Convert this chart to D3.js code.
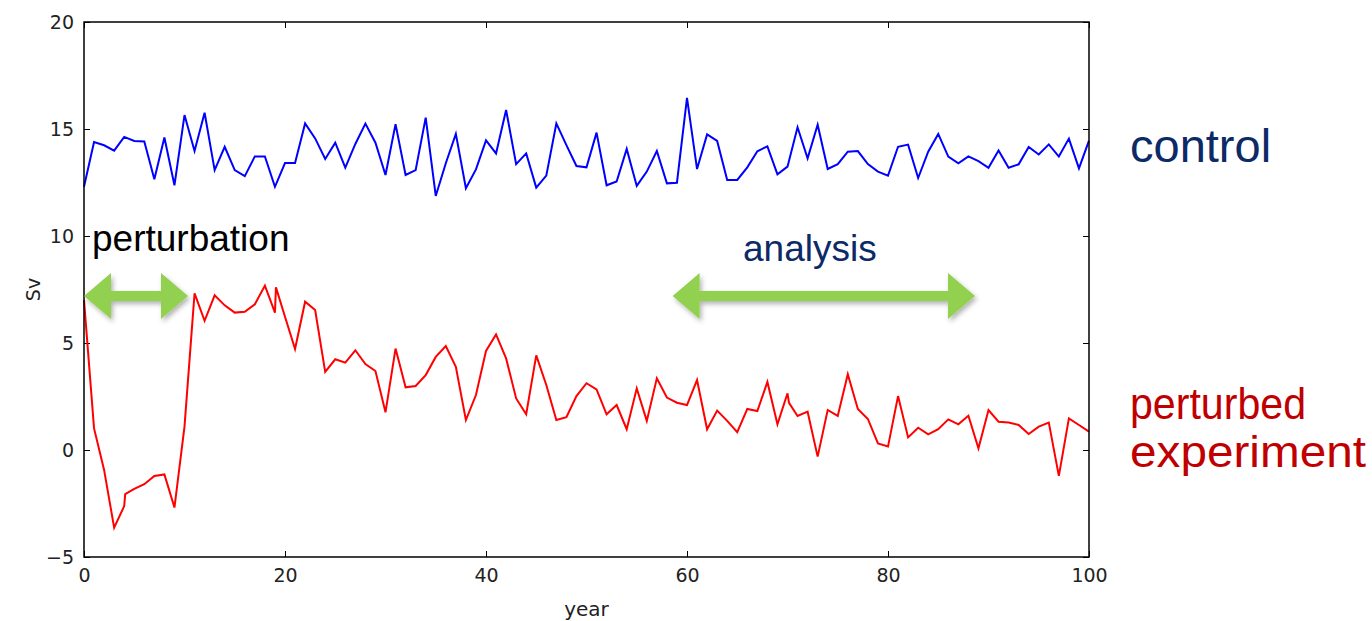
<!DOCTYPE html>
<html>
<head>
<meta charset="utf-8">
<script src="https://cdn.jsdelivr.net/npm/d3@7"></script>
<style>
  body { margin: 0; background: #fff; }
  svg { display: block; }
  .tick text { font-family: "DejaVu Sans", sans-serif; font-size: 19px; fill: #222; }
</style>
</head>
<body>
<div id="chart"></div>
<script>
// control run, one value per year
const controlYears = d3.range(0, 101);
const controlValues = [
  12.3, 14.39, 14.24, 13.99, 14.63, 14.44, 14.42, 12.65, 14.6, 12.37,
  15.65, 13.97, 15.76, 13.08, 14.17, 13.08, 12.8, 13.72, 13.72, 12.3,
  13.41, 13.41, 15.26, 14.56, 13.6, 14.36, 13.19, 14.3, 15.25, 14.36,
  12.85, 15.23, 12.85, 13.08, 15.53, 11.87, 13.4, 14.77, 12.23, 13.11,
  14.47, 13.86, 15.89, 13.36, 13.86, 12.26, 12.82, 15.26, 14.25, 13.27,
  13.21, 14.83, 12.37, 12.55, 14.07, 12.34, 13.01, 13.97, 12.46, 12.49,
  16.45, 13.13, 14.75, 14.44, 12.62, 12.62, 13.21, 13.96, 14.19, 12.88,
  13.24, 15.08, 13.63, 15.2, 13.13, 13.36, 13.94, 13.97, 13.36, 13.01,
  12.82, 14.17, 14.27, 12.71, 13.94, 14.77, 13.71, 13.4, 13.72, 13.5,
  13.19, 14.0, 13.19, 13.35, 14.16, 13.81, 14.28, 13.71, 14.55, 13.16,
  14.46
];

// perturbed run (a few near-duplicate time stamps give the sharp kinks)
const perturbedYears = [
  0, 1, 2, 3, 4, 4.1, 5, 6, 7, 8, 9,
  10, 11, 12, 13, 14, 15, 16, 17, 18, 19, 19.1,
  20, 21, 22, 23, 24, 25, 26, 27, 28, 29,
  30, 31, 32, 33, 34, 35, 36, 37, 38, 39,
  40, 41, 42, 43, 44, 45, 46, 47, 48, 49,
  50, 51, 52, 53, 54, 55, 56, 57, 58, 59,
  60, 61, 62, 63, 64, 65, 66, 67, 68, 69,
  70, 70.15, 71, 72, 73, 74, 75, 76, 77, 78, 79,
  80, 81, 82, 83, 84, 85, 86, 87, 88, 89,
  90, 91, 92, 93, 94, 95, 96, 97, 98, 99,
  100
];
const perturbedValues = [
  7.0, 1.01, -0.93, -3.63, -2.62, -2.06, -1.82, -1.6, -1.21, -1.14, -2.69,
  1.09, 7.32, 6.04, 7.23, 6.76, 6.42, 6.46, 6.81, 7.68, 6.42, 7.6,
  6.23, 4.72, 6.93, 6.54, 3.65, 4.24, 4.08, 4.66, 4.02, 3.69,
  1.76, 4.74, 2.93, 2.99, 3.5, 4.35, 4.86, 3.89, 1.4, 2.57,
  4.63, 5.4, 4.28, 2.41, 1.67, 4.42, 3.04, 1.4, 1.53, 2.52,
  3.12, 2.83, 1.67, 2.1, 0.97, 2.88, 1.36, 3.35, 2.45, 2.21,
  2.1, 3.27, 0.97, 1.84, 1.36, 0.83, 1.92, 1.82, 3.18, 1.2,
  2.65, 2.2, 1.59, 1.79, -0.31, 1.87, 1.59, 3.54, 1.92, 1.45, 0.31,
  0.16, 2.52, 0.59, 1.04, 0.73, 0.97, 1.43, 1.2, 1.6, 0.08,
  1.87, 1.32, 1.28, 1.17, 0.75, 1.09, 1.28, -1.21, 1.48, 1.17,
  0.86
];

const xTicks = [0, 20, 40, 60, 80, 100];
const yTicks = [-5, 0, 5, 10, 15, 20];

// double-headed arrows: [start year, end year, Sv level]
const arrowSpans = [[0, 10.35, 7.2], [58.57, 88.66, 7.2]];

const width = 1372, height = 621;
const margin = { top: 22, right: 283, bottom: 64, left: 84 };

const svg = d3.select("#chart").append("svg")
  .attr("width", width)
  .attr("height", height);

const defs = svg.append("defs");
const shadow = defs.append("filter").attr("id", "shadow")
  .attr("x", "-10%").attr("y", "-40%").attr("width", "120%").attr("height", "180%");
shadow.append("feDropShadow")
  .attr("dx", 2).attr("dy", 3).attr("stdDeviation", 2.5)
  .attr("flood-color", "#000").attr("flood-opacity", 0.3);

const x = d3.scaleLinear().domain([0, 100]).range([margin.left, width - margin.right]);
const y = d3.scaleLinear().domain([-5, 20]).range([height - margin.bottom, margin.top]);

const tickLen = 6;

// axes with inward ticks on all four sides
svg.append("g")
  .attr("transform", `translate(0,${y(-5)})`)
  .call(d3.axisBottom(x).tickValues(xTicks).tickSize(-tickLen).tickPadding(12).tickFormat(d3.format("d")))
  .call(g => g.select(".domain").remove());
svg.append("g")
  .attr("transform", `translate(0,${y(20)})`)
  .call(d3.axisTop(x).tickValues(xTicks).tickSize(-tickLen).tickFormat(""))
  .call(g => g.select(".domain").remove());
svg.append("g")
  .attr("transform", `translate(${x(0)},0)`)
  .call(d3.axisLeft(y).tickValues(yTicks).tickSize(-tickLen).tickPadding(10)
    .tickFormat(d => d < 0 ? "\u2212" + Math.abs(d) : d))
  .call(g => g.select(".domain").remove());
svg.append("g")
  .attr("transform", `translate(${x(100)},0)`)
  .call(d3.axisRight(y).tickValues(yTicks).tickSize(-tickLen).tickFormat(""))
  .call(g => g.select(".domain").remove());

svg.selectAll(".tick line").attr("stroke", "#000").attr("stroke-width", 1);

const line = d3.line().x(d => x(d[0])).y(d => y(d[1]));

svg.append("path")
  .datum(d3.zip(controlYears, controlValues))
  .attr("fill", "none")
  .attr("stroke", "#0000ff")
  .attr("stroke-width", 2)
  .attr("d", line);

svg.append("path")
  .datum(d3.zip(perturbedYears, perturbedValues))
  .attr("fill", "none")
  .attr("stroke", "#ff0000")
  .attr("stroke-width", 2)
  .attr("d", line);

// frame
svg.append("rect")
  .attr("x", x(0)).attr("y", y(20))
  .attr("width", x(100) - x(0)).attr("height", y(-5) - y(20))
  .attr("fill", "none").attr("stroke", "#000").attr("stroke-width", 1.5);

// axis titles
svg.append("text")
  .attr("x", (x(0) + x(100)) / 2).attr("y", 616)
  .attr("text-anchor", "middle")
  .style("font-family", "DejaVu Sans, sans-serif").style("font-size", "20px").style("fill", "#222")
  .text("year");
svg.append("text")
  .attr("transform", `translate(40,${y(7.5)}) rotate(-90)`)
  .attr("text-anchor", "middle")
  .style("font-family", "DejaVu Sans, sans-serif").style("font-size", "19px").style("fill", "#222")
  .text("Sv");

// arrows
const headLen = 27, headHalf = 23, shaftHalf = 5;
function arrowPath(s) {
  const x0 = x(s[0]), x1 = x(s[1]), yc = y(s[2]);
  return [
    [x0, yc], [x0 + headLen, yc - headHalf], [x0 + headLen, yc - shaftHalf],
    [x1 - headLen, yc - shaftHalf], [x1 - headLen, yc - headHalf], [x1, yc],
    [x1 - headLen, yc + headHalf], [x1 - headLen, yc + shaftHalf],
    [x0 + headLen, yc + shaftHalf], [x0 + headLen, yc + headHalf]
  ].map(p => p.join(",")).join(" ");
}
svg.selectAll("polygon.arrow")
  .data(arrowSpans)
  .join("polygon")
  .attr("class", "arrow")
  .attr("points", arrowPath)
  .attr("fill", "#92d050")
  .attr("filter", "url(#shadow)");

// annotations
const font = "Liberation Sans, Arial, sans-serif";
svg.append("text").attr("x", 92).attr("y", 251)
  .style("font-family", font).style("font-size", "37px").style("fill", "#000")
  .text("perturbation");
svg.append("text").attr("x", 743).attr("y", 261)
  .style("font-family", font).style("font-size", "37px").style("fill", "#0c2a66")
  .text("analysis");
svg.append("text").attr("x", 1130).attr("y", 162)
  .style("font-family", font).style("font-size", "47px").style("fill", "#0c2a66")
  .text("control");
svg.append("text").attr("x", 1130).attr("y", 419)
  .style("font-family", font).style("font-size", "44px").style("fill", "#c00000")
  .attr("textLength", 176).attr("lengthAdjust", "spacingAndGlyphs")
  .text("perturbed");
svg.append("text").attr("x", 1130).attr("y", 467)
  .style("font-family", font).style("font-size", "44px").style("fill", "#c00000")
  .attr("textLength", 236).attr("lengthAdjust", "spacingAndGlyphs")
  .text("experiment");
</script>
</body>
</html>
